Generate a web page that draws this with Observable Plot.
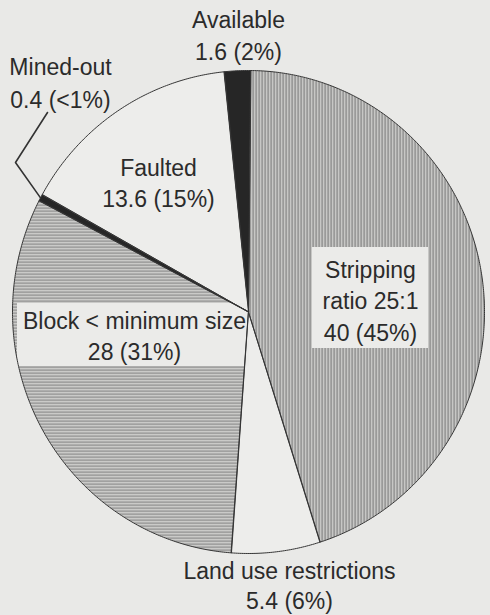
<!DOCTYPE html>
<html><head><meta charset="utf-8">
<script src="https://cdn.jsdelivr.net/npm/d3@7"></script>
<script src="https://cdn.jsdelivr.net/npm/@observablehq/plot@0.6"></script>
<style>
html,body{margin:0;padding:0;background:#e9e9e7;}
</style></head><body><div id="chart"></div>
<script>
// ---- data ----
const categories = ["Stripping ratio 25:1", "Land use restrictions", "Block < minimum size", "Mined-out", "Faulted", "Available"];
const values = [40, 5.4, 28, 0.4, 13.6, 1.6];
const percents = ["45%", "6%", "31%", "<1%", "15%", "2%"];
const nameLines = [["Stripping", "ratio 25:1"], ["Land use restrictions"], ["Block < minimum size"], ["Mined-out"], ["Faulted"], ["Available"]];

// ---- layout / style ----
const W = 490, H = 615;
const cx = 248, cy = 311.5, rx = 236, ry = 241.5;
const rot = 0.5 * Math.PI / 180;
const fills = ["url(#vhatch)", "#ededeb", "url(#hhatch)", "#262626", "#ededeb", "#262626"];
const FS = 23, LH = 31.5;
const labelLayout = [{x: 370, y: 277}, {x: 289, y: 578}, {x: 134, y: 328}, {x: 60, y: 74}, {x: 158, y: 175}, {x: 238, y: 27.5}];
const lineGaps = [LH, 30, LH, 33, LH, LH];
const labelBoxes = [{x1: 312, x2: 428, y1: 247, y2: 348}, {x1: 17, x2: 249, y1: 303, y2: 366}];
const leaderElbows = [{x: 47, y: 112}, {x: 15, y: 162}];

// ---- geometry from data ----
const pie = d3.pie().sort(null).value(d => d.value).startAngle(rot).endAngle(rot + 2 * Math.PI);
const slices = pie(categories.map((c, i) => ({cat: c, value: values[i], i})));
const pts = [];
for (const s of slices) {
  const n = Math.max(2, Math.ceil((s.endAngle - s.startAngle) / (Math.PI / 360)));
  pts.push({cat: s.data.cat, fill: fills[s.data.i], x: cx, y: cy});
  for (let k = 0; k <= n; k++) {
    const a = s.startAngle + (s.endAngle - s.startAngle) * k / n;
    pts.push({cat: s.data.cat, fill: fills[s.data.i], x: cx + rx * Math.sin(a), y: cy - ry * Math.cos(a)});
  }
}
const mined = slices[3];
const midA = (mined.startAngle + mined.endAngle) / 2;
const leader = [...leaderElbows, {x: cx + rx * Math.sin(midA), y: cy - ry * Math.cos(midA)}];

const textRows = [];
categories.forEach((c, i) => {
  const lines = [...nameLines[i], `${values[i]} (${percents[i]})`];
  lines.forEach((t, j) => textRows.push({x: labelLayout[i].x, y: labelLayout[i].y + j * lineGaps[i], text: t}));
});

const chart = Plot.plot({
  width: W, height: H, margin: 0,
  style: {background: "#e9e9e7"},
  x: {domain: [0, W], range: [0, W], axis: null},
  y: {domain: [0, H], range: [0, H], axis: null},
  color: {type: "identity"},
  marks: [
    Plot.line(pts, {x: "x", y: "y", z: "cat", fill: "fill", stroke: "none", curve: "linear-closed"}),
    Plot.rect(labelBoxes, {x1: "x1", x2: "x2", y1: "y1", y2: "y2", fill: "#ebebe9"}),
    Plot.line(pts, {x: "x", y: "y", z: "cat", fill: "none", stroke: "#353535", strokeWidth: 1, curve: "linear-closed"}),
    Plot.line(leader, {x: "x", y: "y", stroke: "#333", strokeWidth: 1.6}),
    Plot.text(textRows, {x: "x", y: "y", text: "text", fontSize: FS, fontFamily: "Liberation Sans, Arial, Helvetica, sans-serif", fill: "#2b2b2b", textAnchor: "middle", dy: -0.32 * FS})
  ]
});

// pattern defs
const svg = d3.select(chart);
const defs = svg.insert("defs", ":first-child");
const v = defs.append("pattern").attr("id", "vhatch").attr("patternUnits", "userSpaceOnUse").attr("width", 3).attr("height", 10);
v.append("rect").attr("width", 3).attr("height", 10).attr("fill", "#d4d4d2");
v.append("rect").attr("width", 1.3).attr("height", 10).attr("fill", "#7a7a7a");
const h = defs.append("pattern").attr("id", "hhatch").attr("patternUnits", "userSpaceOnUse").attr("width", 10).attr("height", 3);
h.append("rect").attr("width", 10).attr("height", 3).attr("fill", "#d6d6d4");
h.append("rect").attr("width", 10).attr("height", 1.3).attr("fill", "#858585");

document.getElementById("chart").appendChild(chart);
</script></body></html>
